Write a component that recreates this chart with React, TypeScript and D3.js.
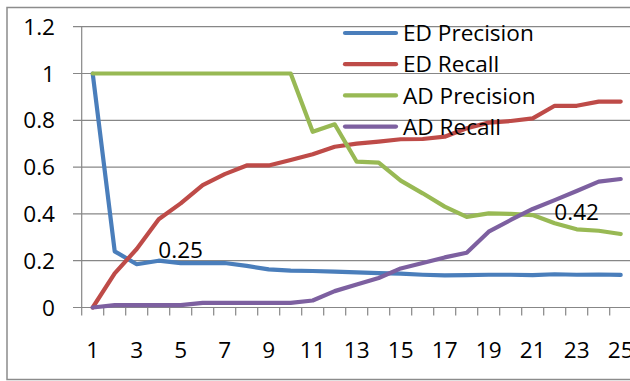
import React from "react";
import * as d3 from "d3";

const categories = d3.range(1, 26).map(String);
const edPrecision = [1.0, 0.24, 0.185, 0.2, 0.19, 0.19, 0.19, 0.178, 0.163, 0.158, 0.156, 0.153, 0.15, 0.147, 0.145, 0.14, 0.137, 0.138, 0.14, 0.14, 0.138, 0.142, 0.14, 0.141, 0.139];
const edRecall = [0, 0.146, 0.25, 0.377, 0.445, 0.523, 0.57, 0.607, 0.607, 0.63, 0.655, 0.687, 0.7, 0.709, 0.719, 0.72, 0.73, 0.766, 0.79, 0.797, 0.808, 0.862, 0.862, 0.88, 0.88];
const adPrecision = [1, 1, 1, 1, 1, 1, 1, 1, 1, 1, 0.751, 0.783, 0.623, 0.619, 0.542, 0.488, 0.431, 0.387, 0.402, 0.4, 0.395, 0.36, 0.334, 0.328, 0.314];
const adRecall = [0, 0.01, 0.01, 0.01, 0.01, 0.02, 0.02, 0.02, 0.02, 0.02, 0.03, 0.07, 0.098, 0.126, 0.167, 0.19, 0.214, 0.234, 0.324, 0.374, 0.421, 0.459, 0.498, 0.538, 0.549];
const seriesNames = ["ED Precision", "ED Recall", "AD Precision", "AD Recall"];
const seriesColors = ["#4A7EBB", "#BE4B48", "#98B954", "#7D60A0"];
const yTicks = [0, 0.2, 0.4, 0.6, 0.8, 1, 1.2];
const yTickLabels = ["0", "0.2", "0.4", "0.6", "0.8", "1", "1.2"];
const dataLabels = [
  { text: "0.25", cat: "5", value: 0.245 },
  { text: "0.42", cat: "23", value: 0.41 },
];

const W = 630;
const H = 381;
const FONT = "'Open Sans', sans-serif";
const GRID = "#878787";
const FS = 22.6;

export default function App() {
  const x = d3.scaleBand().domain(categories).range([81.7, 81.7 + 22 * 25]).padding(0);
  const y = d3.scaleLinear().domain([0, 1.2]).range([307.5, 26.7]);
  const cx = (c: string) => (x(c) as number) + x.bandwidth() / 2;
  const line = d3
    .line<number>()
    .x((_, i) => cx(categories[i]))
    .y((d) => y(d));
  const allSeries = [edPrecision, edRecall, adPrecision, adRecall];
  const x0 = x.range()[0];
  const xEnd = W;
  const tickXs = d3.range(0, 26).map((k) => x0 + k * x.bandwidth());

  return (
    <svg width={W} height={H} style={{ position: "absolute", left: 0, top: 0 }} fontFamily={FONT}>
      <rect x={0} y={0} width={W} height={H} fill="#fff" />
      <rect x={7} y={7.5} width={W} height={372} fill="none" stroke="#8c8c8c" strokeWidth={1.5} />
      {yTicks.map((t) => (
        <line key={t} x1={73} x2={xEnd} y1={y(t)} y2={y(t)} stroke={GRID} strokeWidth={1.2} />
      ))}
      <line x1={x0} x2={x0} y1={y(1.2)} y2={y(0)} stroke={GRID} strokeWidth={1.2} />
      {tickXs.map((tx, i) => (
        <line key={i} x1={tx} x2={tx} y1={y(0)} y2={y(0) + 8} stroke={GRID} strokeWidth={1.2} />
      ))}
      {yTicks.map((t, i) => (
        <text key={t} x={55} y={y(t)} dy="0.36em" textAnchor="end" fontSize={FS} fill="#000">
          {yTickLabels[i]}
        </text>
      ))}
      {categories.map((c, i) =>
        i % 2 === 0 ? (
          <text key={c} x={cx(c)} y={358} textAnchor="middle" fontSize={FS} fill="#000">
            {c}
          </text>
        ) : null
      )}
      {allSeries.map((s, i) => (
        <path
          key={i}
          d={line(s) as string}
          fill="none"
          stroke={seriesColors[i]}
          strokeWidth={4.2}
          strokeLinejoin="round"
          strokeLinecap="round"
        />
      ))}
      {dataLabels.map((l) => (
        <text key={l.text} x={cx(l.cat)} y={y(l.value)} dy="0.36em" textAnchor="middle" fontSize={FS} fill="#000">
          {l.text}
        </text>
      ))}
      {seriesNames.map((n, i) => {
        const ly = 33 + i * 31.2;
        return (
          <g key={n}>
            <line x1={345} x2={396} y1={ly} y2={ly} stroke={seriesColors[i]} strokeWidth={4.2} strokeLinecap="round" />
            <text x={403} y={ly} dy="0.36em" fontSize={FS} fill="#000">
              {n}
            </text>
          </g>
        );
      })}
    </svg>
  );
}
